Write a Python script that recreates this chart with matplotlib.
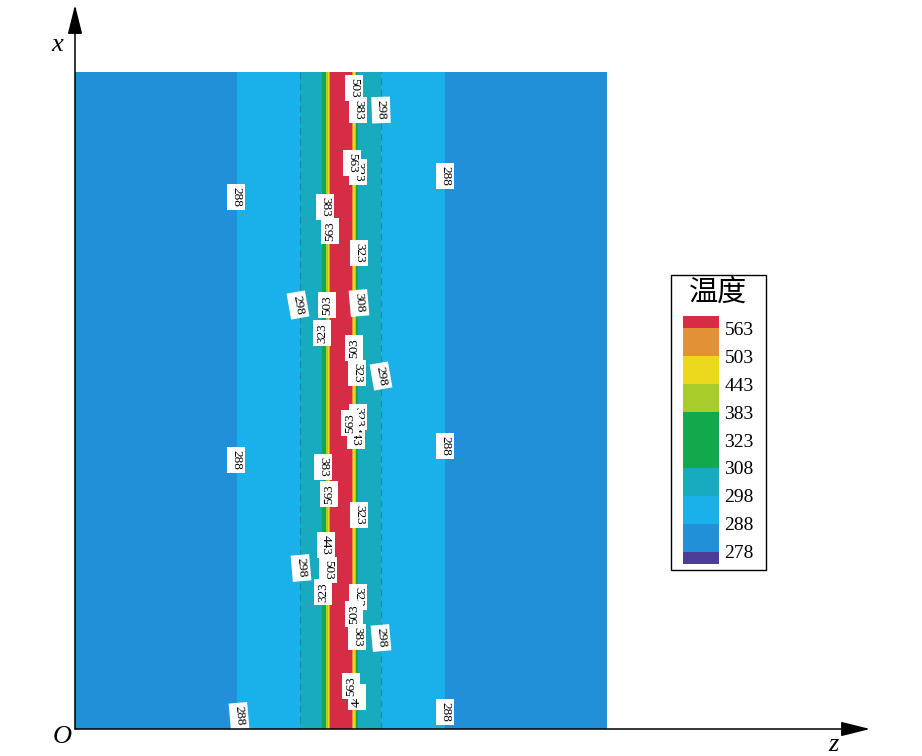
import numpy as np
import matplotlib.pyplot as plt
from matplotlib.patches import Rectangle

plt.rcParams['font.family'] = ['Liberation Serif', 'Noto Sans CJK SC', 'DejaVu Sans']

# temperature profile across the weld (z position -> temperature), uniform along x
z_pts = [0, 162, 225, 247, 251, 253, 254, 255, 266, 277, 278, 279.5, 281, 283, 306, 370, 532]
t_pts = [280, 288, 298, 308, 383, 443, 503, 563, 600, 563, 503, 443, 383, 308, 298, 288, 280]
x_pts = [0, 657]

levels = [278, 288, 298, 308, 323, 383, 443, 503, 563]
colors = ['#4b3d98', '#2190d8', '#1ab0ea', '#18aabe', '#12a84c', '#12a84c',
          '#a8cd2b', '#ebd81c', '#e29136', '#d62c45']

# contour labels: (z, x, text, rotation)
labels = [
    (279, 641, '503', -90), (283, 619, '383', -90), (306, 619, '298', -88),
    (283, 557, '323', -90), (277, 566, '563', -90),
    (250, 522, '383', -90), (255, 498, '563', 90), (284, 476, '323', -90),
    (223, 424, '298', -80), (252, 424, '503', 90), (284, 426, '308', -85),
    (247, 396, '323', 90), (282, 356, '323', -90), (279, 381, '503', 90),
    (306, 353, '298', -80),
    (281, 293, '443', -90), (283, 312, '323', -90), (275, 306, '563', 90),
    (161, 269, '288', -90), (370, 283, '288', -90),
    (161, 532, '288', -90), (370, 553, '288', -90),
    (248, 262, '383', -90), (254, 235, '563', 90), (284, 214, '323', -90),
    (226, 161, '298', -85), (251, 184, '443', -90), (253, 159, '503', -90),
    (248, 137, '323', 90), (283, 132, '323', -90), (279, 115, '503', 90),
    (282, 92, '383', -90), (306, 91, '298', -85),
    (282, 32, '443', 90), (276, 43, '563', 90),
    (164, 13, '288', -85), (370, 17, '288', -90),
]

fig = plt.figure(figsize=(9.22, 7.56), dpi=100)
ax = fig.add_axes([0, 0, 1, 1])
ax.set_xlim(-75, 847)
ax.set_ylim(-27, 729)
ax.axis('off')

Z, X = np.meshgrid(z_pts, x_pts)
T = np.tile(t_pts, (len(x_pts), 1))
cf = ax.contourf(Z, X, T, levels=levels, colors=colors, extend='both')
ax.contour(Z, X, T, levels=[298], colors='#137f98', linewidths=0.8,
           linestyles=[(0, (6, 4))], alpha=0.7)

for z, x, s, r in labels:
    ax.text(z, x, s, rotation=r, ha='center', va='center', fontsize=9.5,
            bbox=dict(boxstyle='square,pad=0.25', fc='white', ec='none'), zorder=5)

# axes arrows
arrow = dict(arrowstyle='-|>,head_length=1.8,head_width=0.45', mutation_scale=10,
             color='black', lw=1.1, shrinkA=0, shrinkB=0)
ax.annotate('', xy=(0, 724), xytext=(0, 0), arrowprops=arrow, zorder=6)
ax.annotate('', xy=(795, 0), xytext=(0, 0), arrowprops=arrow, zorder=6)
ax.text(-18, 684, 'x', fontsize=19, style='italic', ha='center', va='center')
ax.text(-13, -8, 'O', fontsize=19, style='italic', ha='center', va='center')
ax.text(758, -16, 'z', fontsize=19, style='italic', ha='center', va='center')

# legend
cax = fig.add_axes([683 / 922, 1 - 564 / 756, 36 / 922, 248 / 756])
cb = fig.colorbar(cf, cax=cax, extendrect=True, extendfrac=0.054)
cb.outline.set_visible(False)
cb.set_ticks(levels)
cb.ax.tick_params(length=0, labelsize=14, pad=4)
fig.text(718 / 922, 1 - 293 / 756, '温度', fontsize=21, ha='center', va='center',
         family=['Noto Sans CJK SC'])
fig.patches.append(Rectangle((671 / 922, 1 - 570 / 756), 95 / 922, 295 / 756,
                             transform=fig.transFigure, fill=False, ec='black', lw=1))

fig.savefig('out.png', dpi=100)
